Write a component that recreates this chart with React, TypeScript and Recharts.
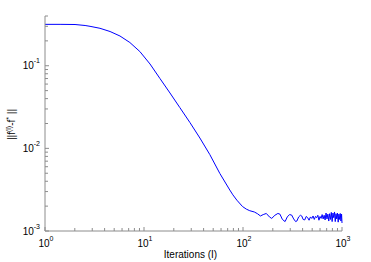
import { LineChart, Line, XAxis, YAxis, Label } from 'recharts';

// iteration index (log x) and error norm (log y)
const iterations = [
  1, 1.42, 2.01, 2.54, 2.85, 3.59, 4.54, 5.72, 7.2, 9.08, 11.5, 14.5, 18.3, 23, 29.1, 36.7, 46.2, 58.4, 73.6, 79,
  86.7, 98.8, 108, 117, 130, 140, 150, 160, 172, 185, 195, 210, 225,
  236, 250, 266, 280, 295, 310, 325, 340, 350, 365, 380, 392, 405, 420, 435, 450, 465, 480, 495, 510,
  525, 540, 555, 570, 585, 600, 615, 630, 645, 660, 675, 690, 705, 720, 735, 750, 765, 780, 795, 810,
  825, 840, 855, 870, 885, 900, 915, 930, 945, 960, 975, 990, 1000,
];
const errorNorm = [
  0.317, 0.317, 0.3156, 0.307, 0.3, 0.284, 0.2596, 0.229, 0.191, 0.1486, 0.105, 0.07, 0.0468, 0.0312, 0.02055, 0.01334, 0.00842, 0.00496, 0.00313, 0.00274,
  0.00236, 0.00198, 0.00184, 0.00176, 0.0017, 0.00162, 0.00152, 0.00158, 0.00163, 0.00148, 0.00142, 0.00155, 0.00163,
  0.0016, 0.00138, 0.0013, 0.00148, 0.00158, 0.00156, 0.0014, 0.0013, 0.00132, 0.00148, 0.00155, 0.00152, 0.00138, 0.00136, 0.0015, 0.00145, 0.00135, 0.00148, 0.00142, 0.00152,
  0.00138, 0.0015, 0.00145, 0.00155, 0.00135, 0.0015, 0.00142, 0.00158, 0.0014, 0.00155, 0.00136, 0.00165, 0.0014, 0.0016, 0.00132, 0.00162, 0.00138, 0.00168, 0.0013, 0.00165,
  0.00145, 0.0017, 0.0013, 0.00162, 0.0014, 0.00165, 0.00128, 0.0016, 0.00138, 0.00163, 0.00132, 0.0016, 0.00125,
];

const xTicks = [
  1, 2, 3, 4, 5, 6, 7, 8, 9,
  10, 20, 30, 40, 50, 60, 70, 80, 90,
  100, 200, 300, 400, 500, 600, 700, 800, 900, 1000,
];
const yTicks = [
  0.001, 0.002, 0.003, 0.004, 0.005, 0.006, 0.007, 0.008, 0.009,
  0.01, 0.02, 0.03, 0.04, 0.05, 0.06, 0.07, 0.08, 0.09,
  0.1, 0.2, 0.3, 0.4,
];

const data = iterations.map((it, k) => ({ it, err: errorNorm[k] }));

const AXIS = '#8c8c8c';
const FONT = '"Liberation Sans", Arial, Helvetica, sans-serif';

// exponent if v is a power of ten, else null
function decade(v: number) {
  const e = Math.round(Math.log10(v));
  return Math.abs(Math.log10(v) - e) < 1e-6 ? e : null;
}

function BottomTick({ x, y, payload }: any) {
  const e = decade(payload.value);
  return (
    <g>
      <line x1={x} y1={y} x2={x} y2={y - (e === null ? 3 : 4)} stroke={AXIS} />
      {e !== null && (
        <text x={x + 1} y={y + 16} textAnchor="middle" fontSize={10} fontFamily={FONT} fill="#000">
          10<tspan dy={-6} fontSize={7}>{e}</tspan>
        </text>
      )}
    </g>
  );
}

function TopTick({ x, y, payload }: any) {
  const e = decade(payload.value);
  return <line x1={x} y1={y} x2={x} y2={y + (e === null ? 3 : 4)} stroke={AXIS} />;
}

function LeftTick({ x, y, payload }: any) {
  const e = decade(payload.value);
  return (
    <g>
      <line x1={x} y1={y} x2={x + (e === null ? 3 : 4)} y2={y} stroke={AXIS} />
      {e !== null && (
        <text x={x - 5} y={y + 3.5} textAnchor="end" fontSize={10} fontFamily={FONT} fill="#000">
          10<tspan dy={-6} fontSize={7}>{e}</tspan>
        </text>
      )}
    </g>
  );
}

function RightTick({ x, y, payload }: any) {
  const e = decade(payload.value);
  return <line x1={x} y1={y} x2={x - (e === null ? 3 : 4)} y2={y} stroke={AXIS} />;
}

export default function App() {
  return (
    <div>
      <style>{'body{margin:0}'}</style>
      <LineChart width={371} height={262} data={data} margin={{ top: 16, right: 29, bottom: 0, left: 0 }}>
        <XAxis
          dataKey="it"
          type="number"
          scale="log"
          domain={[1, 1000]}
          ticks={xTicks}
          interval={0}
          height={31}
          tickSize={0}
          tickMargin={0}
          tickLine={false}
          axisLine={{ stroke: AXIS }}
          tick={(p: any) => <BottomTick {...p} />}
        >
          <Label
            content={({ viewBox }: any) => (
              <text
                x={viewBox.x + viewBox.width / 2 - 3}
                y={viewBox.y + 27}
                textAnchor="middle"
                fontSize={10}
                fontFamily={FONT}
                fill="#000"
              >
                Iterations (I)
              </text>
            )}
          />
        </XAxis>
        <XAxis
          xAxisId="top"
          orientation="top"
          type="number"
          scale="log"
          domain={[1, 1000]}
          ticks={xTicks}
          interval={0}
          height={0}
          tickSize={0}
          tickMargin={0}
          tickLine={false}
          axisLine={{ stroke: AXIS }}
          tick={(p: any) => <TopTick {...p} />}
        />
        <YAxis
          type="number"
          scale="log"
          domain={[0.001, 0.4]}
          ticks={yTicks}
          interval={0}
          width={45}
          tickSize={0}
          tickMargin={0}
          tickLine={false}
          axisLine={{ stroke: AXIS }}
          tick={(p: any) => <LeftTick {...p} />}
        >
          <Label
            content={({ viewBox }: any) => {
              const cx = viewBox.x + 15;
              const cy = viewBox.y + viewBox.height / 2 + 1;
              return (
                <text
                  transform={`translate(${cx},${cy}) rotate(-90)`}
                  textAnchor="middle"
                  fontSize={10}
                  fontFamily={FONT}
                  fill="#000"
                >
                  ||f<tspan dy={-4} fontSize={7}>(l)</tspan>
                  <tspan dy={4}>-f</tspan>
                  <tspan dy={-4} fontSize={7}>*</tspan>
                  <tspan dy={4}> ||</tspan>
                </text>
              );
            }}
          />
        </YAxis>
        <YAxis
          yAxisId="right"
          orientation="right"
          type="number"
          scale="log"
          domain={[0.001, 0.4]}
          ticks={yTicks}
          interval={0}
          width={0}
          tickSize={0}
          tickMargin={0}
          tickLine={false}
          axisLine={{ stroke: AXIS }}
          tick={(p: any) => <RightTick {...p} />}
        />
        <Line
          type="linear"
          dataKey="err"
          stroke="#0000ff"
          strokeWidth={1}
          dot={false}
          isAnimationActive={false}
        />
      </LineChart>
    </div>
  );
}
